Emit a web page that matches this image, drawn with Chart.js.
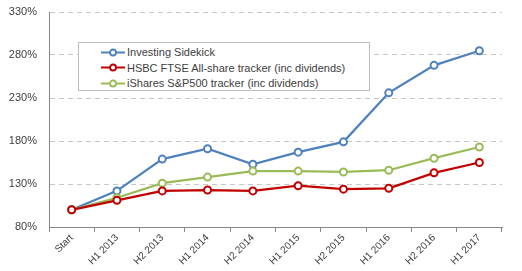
<!DOCTYPE html>
<html>
<head>
<meta charset="utf-8">
<script src="https://cdn.jsdelivr.net/npm/chart.js@4/dist/chart.umd.min.js"></script>
<style>
  html, body { margin: 0; padding: 0; background: #fff; }
  #wrap { position: relative; width: 522px; height: 271px; }
  #legend {
    position: absolute; left: 78px; top: 42px; width: 292px; height: 49px;
    border: 1px solid #bfbfbf; background: #fff;
    font-family: "Liberation Sans", Arial, sans-serif; font-size: 11px; color: #404040;
    box-sizing: border-box; padding-top: 2px;
  }
  #legend .row { height: 15.5px; line-height: 15.5px; white-space: nowrap; padding-left: 22px; }
  #legend svg { vertical-align: middle; margin-right: 2px; position: relative; top: -1px; }
</style>
</head>
<body>
<div id="wrap">
  <canvas id="chart"></canvas>
  <div id="legend"></div>
</div>
<script>
const categories = ['Start', 'H1 2013', 'H2 2013', 'H1 2014', 'H2 2014', 'H1 2015', 'H2 2015', 'H1 2016', 'H2 2016', 'H1 2017'];
const sidekick = [100, 122, 159, 171, 153, 167, 179, 236, 268, 285];
const hsbcFtse = [100, 111, 122, 123, 122, 128, 124, 125, 143, 155];
const isharesSp = [100, 114, 131, 138, 145, 145, 144, 146, 160, 173];
const yTicks = [80, 130, 180, 230, 280, 330];

const seriesNames = ['Investing Sidekick', 'HSBC FTSE All-share tracker (inc dividends)', 'iShares S&P500 tracker (inc dividends)'];
const seriesColors = ['#4f81bd', '#c00000', '#9bbb59'];

document.addEventListener("DOMContentLoaded", function () {
    const theChart = initChart(document.getElementById('chart'));
    buildLegend();
});

const makeSet = (label, data, color) => ({
    label: label,
    data: data,
    borderColor: color,
    backgroundColor: '#ffffff',
    borderWidth: 2.25,
    pointRadius: 3.5,
    pointBorderWidth: 2,
    pointBackgroundColor: '#ffffff',
    pointBorderColor: color,
    tension: 0
});

const initChart = (canvas) => {
    return new Chart(canvas, {
        type: 'line',
        data: {
            labels: categories,
            datasets: [
                makeSet(seriesNames[1], hsbcFtse, seriesColors[1]),
                makeSet(seriesNames[2], isharesSp, seriesColors[2]),
                makeSet(seriesNames[0], sidekick, seriesColors[0])
            ]
        },
        options: {
            responsive: true,
            maintainAspectRatio: false,
            animation: false,
            layout: { padding: { left: 4, right: 20, top: 12, bottom: 4 } },
            plugins: { legend: { display: false }, tooltip: { enabled: false } },
            scales: {
                x: {
                    offset: true,
                    grid: { display: true, drawOnChartArea: false, drawTicks: true, tickLength: 5, color: '#868686', offset: true },
                    border: { color: '#868686', width: 1 },
                    ticks: {
                        maxRotation: 45, minRotation: 45, autoSkip: false, padding: 0,
                        color: '#404040',
                        font: { family: '"Liberation Sans", Arial, sans-serif', size: 10 }
                    },
                    afterFit: (s) => { s.height = 40; s.paddingTop = 0; s.paddingBottom = 0; }
                },
                y: {
                    min: 80, max: 330,
                    afterBuildTicks: (s) => { s.ticks = yTicks.map(v => ({ value: v })); },
                    grid: { color: '#c8c8c8', drawTicks: false },
                    border: { color: '#868686', width: 1, dash: [5, 4] },
                    ticks: {
                        padding: 12,
                        color: '#404040',
                        font: { family: '"Liberation Sans", Arial, sans-serif', size: 11 },
                        callback: (v) => v + '%'
                    },
                    afterFit: (s) => { s.width = 45; s.paddingTop = 0; s.paddingBottom = 0; }
                }
            }
        }
    });
}

const buildLegend = () => {
    const box = document.getElementById('legend');
    seriesNames.forEach((name, i) => {
        const row = document.createElement('div');
        row.className = 'row';
        row.innerHTML = '<svg width="24" height="9"><line x1="0" y1="4.5" x2="24" y2="4.5" stroke="' + seriesColors[i] +
            '" stroke-width="2"/><circle cx="12" cy="4.5" r="3" fill="#fff" stroke="' + seriesColors[i] + '" stroke-width="1.8"/></svg>';
        row.appendChild(document.createTextNode(name));
        box.appendChild(row);
    });
}
</script>
</body>
</html>
